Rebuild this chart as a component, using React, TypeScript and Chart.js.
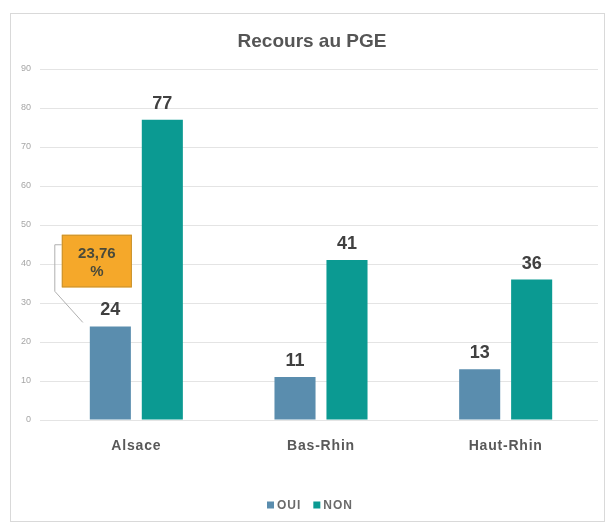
import React, { useEffect, useRef } from "react";
import { Chart, registerables } from "chart.js";

Chart.register(...registerables);

const TITLE = "Recours au PGE";
const CATEGORIES = ["Alsace", "Bas-Rhin", "Haut-Rhin"];
const SERIES_NAMES = ["OUI", "NON"];
const OUI_VALUES = [24, 11, 13];
const NON_VALUES = [77, 41, 36];
const Y_MIN = 0;
const Y_MAX = 90;
const Y_STEP = 10;
const CALLOUT_LINES = ["23,76", "%"];
const CALLOUT_TOP = 47.5;
const CALLOUT_BOTTOM = 34;

const COLORS = ["#5A8DAE", "#0B9A92"];
const TEXT_DARK = "#404040";
const TEXT_GRAY = "#595959";
const FONT = '"Liberation Sans", Arial, sans-serif';

const decorPlugin = {
  id: "decor",
  beforeDraw(chart: any) {
    const ctx = chart.ctx;
    ctx.save();
    ctx.fillStyle = "#ffffff";
    ctx.fillRect(0, 0, chart.width, chart.height);
    ctx.strokeStyle = "#d9d9d9";
    ctx.lineWidth = 1;
    ctx.strokeRect(10.5, 13.5, 594, 508);
    ctx.restore();
  },
  afterDatasetsDraw(chart: any) {
    const ctx = chart.ctx;
    const area = chart.chartArea;
    const xScale = chart.scales.x;
    const yScale = chart.scales.y;
    ctx.save();

    // title
    ctx.fillStyle = "#555555";
    ctx.font = `bold 19px ${FONT}`;
    ctx.textAlign = "center";
    ctx.textBaseline = "alphabetic";
    ctx.fillText(TITLE, 312, 47);

    // value labels
    ctx.fillStyle = TEXT_DARK;
    ctx.font = `bold 18px ${FONT}`;
    chart.data.datasets.forEach((ds: any, di: number) => {
      const meta = chart.getDatasetMeta(di);
      meta.data.forEach((el: any, i: number) => {
        ctx.fillText(String(ds.data[i]), el.x, el.y - 11);
      });
    });

    // category labels
    ctx.fillStyle = TEXT_GRAY;
    ctx.font = `bold 14px ${FONT}`;
    (ctx as any).letterSpacing = "0.8px";
    CATEGORIES.forEach((c, i) => {
      ctx.fillText(c, xScale.getPixelForValue(i), area.bottom + 30);
    });
    (ctx as any).letterSpacing = "0px";

    // callout on first bar
    const el = chart.getDatasetMeta(0).data[0];
    const barLeft = el.x - el.width / 2;
    const barRight = el.x + el.width / 2;
    const bx = barLeft - 28;
    const bw = barRight + 1 - bx;
    const by = yScale.getPixelForValue(CALLOUT_TOP);
    const bh = yScale.getPixelForValue(CALLOUT_BOTTOM) - by;

    ctx.strokeStyle = "#b0b0b0";
    ctx.lineWidth = 1;
    ctx.beginPath();
    const ly = by + 10;
    ctx.moveTo(bx, ly);
    ctx.lineTo(bx - 7, ly);
    ctx.lineTo(bx - 7, yScale.getPixelForValue(33));
    ctx.lineTo(barLeft - 7, el.y - 4);
    ctx.stroke();

    ctx.fillStyle = "#F5A82A";
    ctx.fillRect(bx, by, bw, bh);
    ctx.strokeStyle = "#C8922F";
    ctx.strokeRect(bx + 0.5, by + 0.5, bw - 1, bh - 1);

    ctx.fillStyle = "#4a4a3a";
    ctx.font = `bold 15px ${FONT}`;
    ctx.fillText(CALLOUT_LINES[0], bx + bw / 2, by + 23);
    ctx.fillText(CALLOUT_LINES[1], bx + bw / 2, by + 41);

    // legend
    ctx.font = `bold 12px ${FONT}`;
    (ctx as any).letterSpacing = "1px";
    ctx.textAlign = "left";
    ctx.textBaseline = "middle";
    let lx = 267;
    const legY = 505;
    SERIES_NAMES.forEach((name, i) => {
      ctx.fillStyle = COLORS[i];
      ctx.fillRect(lx, legY - 3.5, 7, 7);
      lx += 10;
      ctx.fillStyle = "#6a6a6a";
      ctx.fillText(name, lx, legY + 1);
      lx += ctx.measureText(name).width + 12;
    });
    (ctx as any).letterSpacing = "0px";

    ctx.restore();
  },
};

export default function App() {
  const ref = useRef<HTMLCanvasElement | null>(null);
  useEffect(() => {
    if (!ref.current) return;
    const chart = new Chart(ref.current, {
      type: "bar",
      data: {
        labels: CATEGORIES,
        datasets: [
          {
            label: SERIES_NAMES[0],
            data: OUI_VALUES,
            backgroundColor: COLORS[0],
            categoryPercentage: 0.563,
            barPercentage: 0.79,
          },
          {
            label: SERIES_NAMES[1],
            data: NON_VALUES,
            backgroundColor: COLORS[1],
            categoryPercentage: 0.563,
            barPercentage: 0.79,
          },
        ],
      },
      options: {
        responsive: false,
        animation: false,
        layout: { padding: { left: 0, right: 13, top: 69, bottom: 0 } },
        plugins: {
          legend: { display: false },
          title: { display: false },
          tooltip: { enabled: false },
        },
        scales: {
          x: {
            offset: true,
            grid: { display: false },
            border: { display: false },
            ticks: { display: false },
            afterFit: (s: any) => {
              s.height = 105;
            },
          },
          y: {
            min: Y_MIN,
            max: Y_MAX,
            ticks: {
              stepSize: Y_STEP,
              color: "#a6a6a6",
              font: { size: 9, family: FONT },
              padding: 9,
            },
            grid: {
              color: "#e4e4e4",
              tickLength: 4,
              drawTicks: true,
            },
            border: { display: false },
            afterFit: (s: any) => {
              s.width = 44;
            },
          },
        },
      },
      plugins: [decorPlugin],
    });
    return () => chart.destroy();
  }, []);
  return (
    <canvas
      ref={ref}
      width={611}
      height={525}
      style={{ position: "absolute", left: 0, top: 0, width: 611, height: 525 }}
    />
  );
}
